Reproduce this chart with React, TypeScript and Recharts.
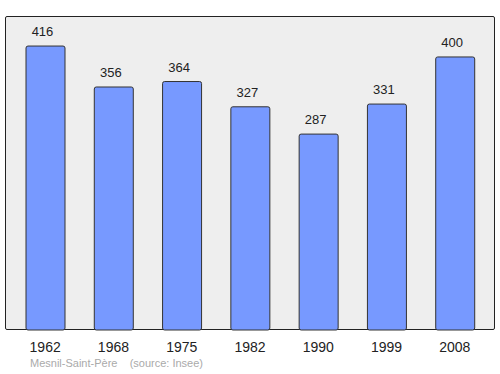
import { BarChart, Bar, XAxis, YAxis, LabelList } from 'recharts'

const years = ['1962', '1968', '1975', '1982', '1990', '1999', '2008']
const population = [416, 356, 364, 327, 287, 331, 400]
const commune = 'Mesnil-Saint-Père'
const source = '(source: Insee)'

const data = years.map((year, i) => ({ year, population: population[i] }))

const font = '"Liberation Sans", Arial, sans-serif'
// plot area: x 5..495, y 16..330 ; x axis takes the remaining 44px
const margin = { top: 16, right: 5, bottom: 0, left: 5 }
const axisHeight = 44

export default function App() {
    return (
        <div style={{ position: 'absolute', left: 0, top: 0, width: 500, height: 374, fontFamily: font }}>
            {/* plot background + frame */}
            <div
                style={{
                    position: 'absolute',
                    left: margin.left,
                    top: margin.top,
                    width: 500 - margin.left - margin.right,
                    height: 374 - margin.top - axisHeight,
                    boxSizing: 'border-box',
                    background: '#eeeeee',
                    border: '1.5px solid #222',
                    borderRadius: 2,
                }}
            />
            <div style={{ position: 'absolute', left: 0, top: 0 }}>
                <BarChart width={500} height={374} data={data} margin={margin}>
                    <XAxis
                        dataKey="year"
                        height={axisHeight}
                        axisLine={false}
                        tickLine={false}
                        tickMargin={6}
                        padding={{ left: 6, right: 6 }}
                        tick={{ fontSize: 14, fill: '#222', fontFamily: font }}
                    />
                    <YAxis hide domain={[0, 460]} />
                    <Bar
                        dataKey="population"
                        fill="#7799ff"
                        stroke="#333"
                        strokeWidth={1}
                        barSize={39}
                        radius={2}
                        isAnimationActive={false}
                    >
                        <LabelList
                            dataKey="population"
                            position="top"
                            offset={10}
                            dx={-3}
                            style={{ fontSize: 13, fill: '#222', fontFamily: font }}
                        />
                    </Bar>
                </BarChart>
            </div>
            <div
                style={{
                    position: 'absolute',
                    left: 30,
                    top: 357,
                    fontSize: 11,
                    color: '#aaa',
                    whiteSpace: 'pre',
                }}
            >
                {commune + '    ' + source}
            </div>
        </div>
    )
}
